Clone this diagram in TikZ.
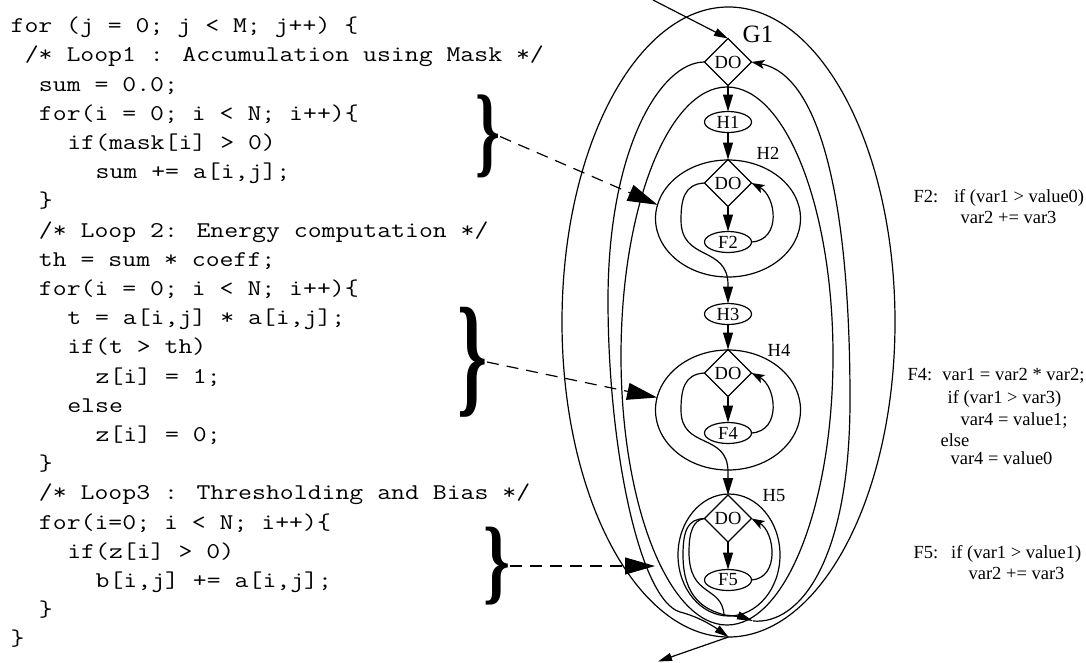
\documentclass[tikz,border=0pt]{standalone}
\usepackage{fontspec}
\usepackage{graphicx}
\setmainfont{Liberation Serif}
\usetikzlibrary{shapes.geometric,arrows.meta}
\newcommand{\cl}[1]{\scalebox{1.2}[1]{#1}}
\begin{document}
\begin{tikzpicture}[x=1pt,y=-1pt,line width=1.2pt,
  codeline/.style={anchor=base west,inner sep=0pt,font=\ttfamily\fontsize{22.5pt}{27pt}\selectfont},
  note/.style={anchor=base west,inner sep=0pt,font=\fontsize{18.5pt}{21pt}\selectfont},
  nodefont/.style={font=\fontsize{18.5pt}{20pt}\selectfont},
  dia/.style={diamond,draw,inner sep=0pt,outer sep=0pt,minimum width=47pt,minimum height=47pt,nodefont},
  ell/.style={ellipse,draw,inner sep=0pt,outer sep=0pt,minimum width=47pt,minimum height=21pt,nodefont},
  region/.style={ellipse,draw,inner sep=0pt,outer sep=0pt},
  lab/.style={inner sep=0pt,nodefont},
  arr/.style={-{Triangle[length=17pt,width=10pt]}},
  barr/.style={-{Stealth[length=13pt,width=9pt,inset=3pt]}},
  sarr/.style={-{Triangle[length=14pt,width=8pt]}},
  darr/.style={dash pattern=on 12pt off 8pt,-{Triangle[length=30pt,width=17pt]}},
  bracenode/.style={inner sep=0pt,outer sep=0pt}]
\useasboundingbox (0,0) rectangle (1086,662);

% ---------- code ----------
\node[codeline] (c1)  at (10,32.6)     {\cl{for (j = 0; j < M; j++) \{}};
\node[codeline] (c2)  at (24.2,61.8)   {\cl{/* Loop1 : Accumulation using Mask */}};
\node[codeline] (c3)  at (38.35,91.0)  {\cl{sum = 0.0;}};
\node[codeline] (c4)  at (38.35,120.2) {\cl{for(i = 0; i < N; i++)\{}};
\node[codeline] (c5)  at (66.7,149.4)  {\cl{if(mask[i] > 0)}};
\node[codeline] (c6)  at (95.05,178.6) {\cl{sum += a[i,j];}};
\node[codeline] (c7)  at (38.35,207.8) {\cl{\}}};
\node[codeline] (c8)  at (38.35,237.0) {\cl{/* Loop 2: Energy computation */}};
\node[codeline] (c9)  at (38.35,266.2) {\cl{th = sum * coeff;}};
\node[codeline] (c10) at (38.35,295.4) {\cl{for(i = 0; i < N; i++)\{}};
\node[codeline] (c11) at (66.7,324.6)  {\cl{t = a[i,j] * a[i,j];}};
\node[codeline] (c12) at (66.7,353.8)  {\cl{if(t > th)}};
\node[codeline] (c13) at (95.05,383.0) {\cl{z[i] = 1;}};
\node[codeline] (c14) at (66.7,412.2)  {\cl{else}};
\node[codeline] (c15) at (95.05,441.4) {\cl{z[i] = 0;}};
\node[codeline] (c16) at (38.35,470.6) {\cl{\}}};
\node[codeline] (c17) at (38.35,499.8) {\cl{/* Loop3 : Thresholding and Bias */}};
\node[codeline] (c18) at (38.35,529.0) {\cl{for(i=0; i < N; i++)\{}};
\node[codeline] (c19) at (66.7,558.2)  {\cl{if(z[i] > 0)}};
\node[codeline] (c20) at (95.05,587.4) {\cl{b[i,j] += a[i,j];}};
\node[codeline] (c21) at (38.35,616.6) {\cl{\}}};
\node[codeline] (c22) at (10,645.8)    {\cl{\}}};

% ---------- braces ----------
\node[bracenode] (B1) at (487.5,136.5) {\resizebox*{25pt}{83pt}{\textbf{\}}}};
\node[bracenode] (B2) at (472,362)     {\resizebox*{30pt}{110pt}{\textbf{\}}}};
\node[bracenode] (B3) at (496.5,566)   {\resizebox*{27pt}{78pt}{\textbf{\}}}};

% ---------- regions ----------
\node[region,minimum width=333pt,minimum height=630pt] (G1) at (728.5,322) {};
\node[region,minimum width=212pt,minimum height=538pt] (body) at (727,356) {};
\node[region,minimum width=145pt,minimum height=117pt] (H2) at (728,218.5) {};
\node[region,minimum width=145pt,minimum height=120pt] (H4) at (728,410) {};
\node[region,minimum width=102pt,minimum height=122pt] (H5) at (729,555) {};

% ---------- nodes ----------
\node[dia] (D1) at (728,62)    {DO};
\node[ell] (H1) at (728,122)   {H1};
\node[dia] (D2) at (728,183)   {DO};
\node[ell] (F2) at (728,242)   {F2};
\node[ell] (H3) at (728,314)   {H3};
\node[dia] (D4) at (728,373)   {DO};
\node[ell] (F4) at (728,433)   {F4};
\node[dia] (D5) at (728,518.5) {DO};
\node[ell] (F5) at (728,580)   {F5};

\node[inner sep=0pt,font=\fontsize{25pt}{25pt}\selectfont] (lG1) at (758,34) {G1};
\node[lab] (lH2) at (768,153) {H2};
\node[lab] (lH4) at (779,350) {H4};
\node[lab] (lH5) at (774,496) {H5};

% ---------- edges ----------
\coordinate (inc) at (653,0);
\draw[sarr] (inc) -- (D1.north);
\draw[arr] (D1.south) -- (H1.north);
\draw[arr] (H1.south) -- (D2.north);
\draw[arr] (D2.south) -- (F2.north);
\draw[arr] (H3.south) -- (D4.north);
\draw[arr] (D4.south) -- (F4.north);
\draw[arr] (D5.south) -- (F5.north);

% inner back edges
\draw[barr] (F2.east) .. controls (782,240) and (776,196) .. (D2.east);
\draw[barr] (F4.east) .. controls (782,431) and (776,386) .. (D4.east);
\draw[barr] (F5.east) .. controls (780,578) and (775,532) .. (D5.east);

% inner exits
\draw[arr] (D2.west) .. controls (684,184) and (681,200) .. (681,220)
  .. controls (681,262) and (728,245) .. (728,285) -- (H3.north);
\draw[arr] (D4.west) .. controls (684,374) and (681,390) .. (681,410)
  .. controls (681,450) and (728,432) .. (728,472) -- (D5.north);

\coordinate (b5) at (753,621);
\draw[-{Triangle[length=16pt,width=8pt]}] (D5.west) .. controls (688,519) and (683,530) .. (683,555)
  .. controls (683,598) and (705,610) .. (725,615) .. controls (736,616) and (745,618) .. (b5);
\draw (D5.west) .. controls (693,520) and (689,532) .. (689,552)
  .. controls (689,598) and (722,585) .. (724,615);

% outer loop back edge and exit
\draw[barr] (b5) .. controls (800,625) and (850,560) .. (850,400)
  .. controls (850,200) and (820,75) .. (D1.east);
\draw[sarr] (D1.west) .. controls (660,62) and (608,150) .. (608,300)
  .. controls (608,450) and (640,600) .. (680,612)
  .. controls (700,617) and (716,628) .. (G1.south);
\coordinate (outend) at (658,661.5);
\draw[sarr] (G1.south) -- (outend);

% dashed mapping arrows
\coordinate (t3) at (655,566);
\draw[darr] (B1.east) -- (H2.169);
\draw[darr] (B2.east) -- (H4.170);
\draw[darr] (B3.east) -- (t3);

% ---------- notes ----------
\node[note] (n1) at (913,202.5) {F2:\hspace{0.85em}if (var1 > value0)};
\node[note] (n2) at (960,223.5) {var2 += var3};
\node[note] (n3) at (907,380.5) {F4:\hspace{0.55em}var1 = var2 * var2;};
\node[note] (n4) at (947,403.5) {if (var1 > var3)};
\node[note] (n5) at (960,425.5) {var4 = value1;};
\node[note] (n6) at (940,446.5) {else};
\node[note] (n7) at (950,464.5) {var4 = value0};
\node[note] (n8) at (913,558.5) {F5:\hspace{0.7em}if (var1 > value1)};
\node[note] (n9) at (968,579.5) {var2 += var3};
\end{tikzpicture}
\end{document}
